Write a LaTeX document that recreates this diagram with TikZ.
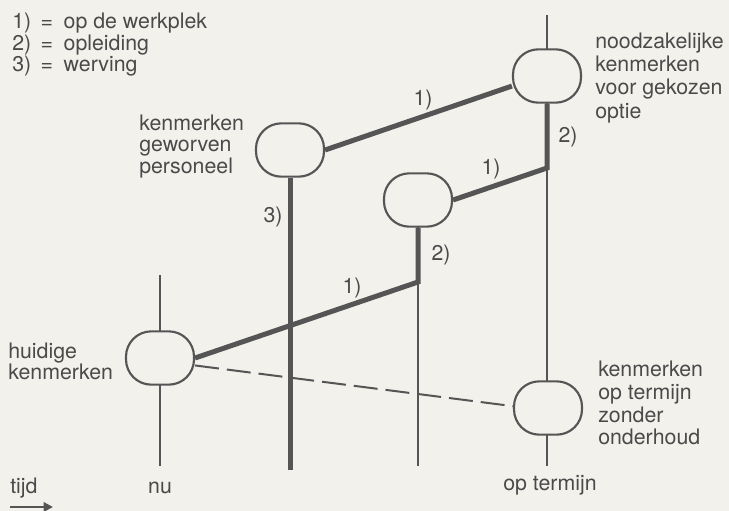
\documentclass[tikz,border=0pt]{standalone}
\usepackage{fontspec}
\setmainfont{TeX Gyre Heros}
\usetikzlibrary{arrows.meta}
\definecolor{paper}{HTML}{F3F1EC}
\definecolor{ink}{HTML}{555555}
\definecolor{txtc}{HTML}{4A4A4A}
\newcommand\lns[2]{{\fontsize{16}{#1}\selectfont\begin{tabular}[t]{@{}l@{}}#2\end{tabular}}}
\begin{document}
\begin{tikzpicture}[x=0.75pt,y=-0.75pt,
  oval/.style={draw=ink,line width=1.6pt,fill=paper,rounded corners=19pt,minimum width=51pt,minimum height=40pt,inner sep=0pt},
  thinline/.style={draw=ink,line width=1.1pt},
  thickline/.style={draw=ink,line width=3.75pt,line join=miter},
  dashline/.style={draw=ink,line width=1.5pt,dash pattern=on 18pt off 6pt},
  txt/.style={text=txtc,inner sep=0pt,anchor=base west},
  lbl/.style={text=txtc,inner sep=0pt,font=\fontsize{16}{17}\selectfont},
  ]
% background / bounding box
\fill[paper] (0,0) rectangle (729,511);
\useasboundingbox (0,0) rectangle (729,511);

% coordinates
\coordinate (nuT) at (160,275);
\coordinate (nuB) at (160,466);
\coordinate (opT) at (547,15);
\coordinate (opB) at (547,466);
\coordinate (mB) at (418,466);
\coordinate (g3) at (290,470);
\coordinate (k1) at (418,282);
\coordinate (k2) at (547,168);

% thin time lines
\draw[thinline] (nuT) -- (nuB);
\draw[thinline] (opT) -- (opB);
\draw[thinline] (418,227) -- (mB);

% ovals
\node[oval] (hu) at (160,358) {};
\node[oval] (gw) at (290,150) {};
\node[oval] (mid) at (418,200) {};
\node[oval] (tr) at (547,76) {};
\node[oval] (br) at (548,408) {};

% thick paths
\draw[thickline] (gw.south) -- (g3);
\draw[thickline] (hu.east) -- (k1) -- (mid.south);
\draw[thickline] (mid.east) -- (k2) -- (tr.south);
\draw[thickline] (gw.east) -- (tr.196);
\draw[dashline] (hu.-12) -- (br.177);

% path labels
\node[lbl] (l1) at (352,288) {1)};
\node[lbl] (l2) at (441,255) {2)};
\node[lbl] (l3) at (491,169) {1)};
\node[lbl] (l4) at (568,137) {2)};
\node[lbl] (l5) at (423,100) {1)};
\node[lbl] (l6) at (273,217) {3)};

% legend
\node[txt] (legend) at (12,28.3) {{\fontsize{16}{15.6}\selectfont\begin{tabular}[t]{@{}l@{\hspace{7pt}=\hspace{8pt}}l@{}}1) & op de werkplek\\ 2) & opleiding\\ 3) & werving\end{tabular}}};

% text blocks
\node[txt] (tgw) at (139,130) {\lns{16}{kenmerken\\ geworven\\ personeel}};
\node[txt] (thu) at (8,358) {\lns{15.5}{huidige\\ kenmerken}};
\node[txt] (ttr) at (595,48.3) {\lns{17.5}{noodzakelijke\\ kenmerken\\ voor gekozen\\ optie}};
\node[txt] (tbr) at (598,376.7) {\lns{17}{kenmerken\\ op termijn\\ zonder\\ onderhoud}};

% axis labels
\node[lbl,anchor=base] (tnu) at (160,493) {nu};
\node[lbl,anchor=base] (top) at (550,490) {op termijn};
\node[lbl,anchor=base west] (tijd) at (10,493) {tijd};
\coordinate (a0) at (10,507);
\coordinate (a1) at (53,507);
\draw[draw=ink,line width=2.2pt,-{Triangle[length=7pt,width=7pt]}] (a0) -- (a1);
\end{tikzpicture}
\end{document}
